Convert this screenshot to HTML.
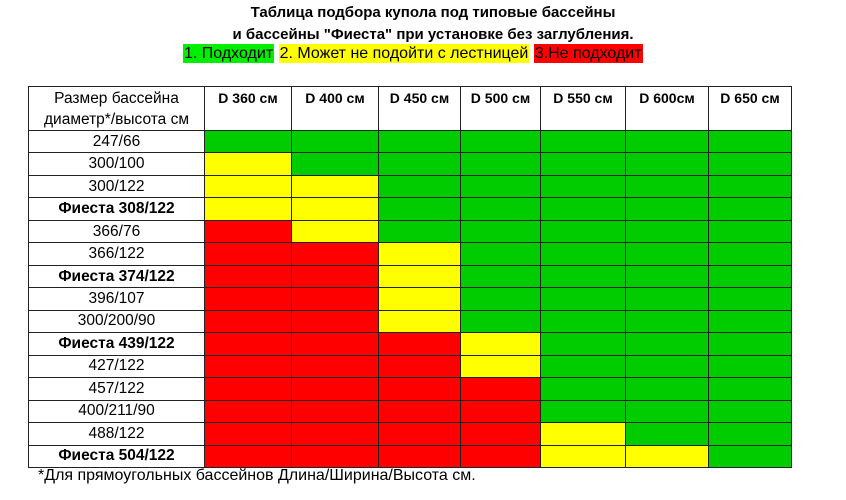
<!DOCTYPE html>
<html><head><meta charset="utf-8"><style>
body{margin:0;width:846px;height:500px;background:#fff;font-family:"Liberation Sans","DejaVu Sans",sans-serif;position:relative;overflow:hidden;color:#000}
.t{position:absolute;left:0;width:866px;text-align:center;font-weight:bold;font-size:15px;white-space:nowrap}
.lg{position:absolute;top:43px;left:183px;font-size:16px;white-space:nowrap;line-height:22px}
.lg span{padding:1px 1px}
table{position:absolute;left:28px;top:86px;border-collapse:collapse;table-layout:fixed}
td{border:1px solid #222;padding:0;height:21.47px;font-size:15.5px;text-align:center;line-height:20px;white-space:nowrap}
tr.h td{height:42px;vertical-align:top;font-weight:bold;font-size:14px;line-height:20px;padding-top:1px;background:#fff}
tr.h td:first-child{font-weight:normal;font-size:15.5px;line-height:21px;vertical-align:middle;padding-top:0}
.G{background:#00cc00}.Y{background:#ffff00}.R{background:#ff0000}
.b{font-weight:bold}
.f{position:absolute;left:38px;top:467px;font-size:16px;white-space:nowrap}
</style></head><body>
<div class="t" style="top:4px">Таблица подбора купола под типовые бассейны</div>
<div class="t" style="top:26px">и бассейны "Фиеста" при установке без заглубления.</div>
<div class="lg"><span style="background:#00ee00">1. Подходит</span> <span style="background:#ffff00">2. Может не подойти с лестницей</span> <span style="background:#ff0000">3.Не подходит</span></div>
<table>
<colgroup><col style="width:176px"><col style="width:87px"><col style="width:87px"><col style="width:82px"><col style="width:80px"><col style="width:85px"><col style="width:83px"><col style="width:83px"></colgroup>
<tr class="h"><td>Размер бассейна<br>диаметр*/высота см</td><td>D 360 см</td><td>D 400 см</td><td>D 450 см</td><td>D 500 см</td><td>D 550 см</td><td>D 600см</td><td>D 650 см</td></tr>
<tr><td>247/66</td><td class="G"></td><td class="G"></td><td class="G"></td><td class="G"></td><td class="G"></td><td class="G"></td><td class="G"></td></tr>
<tr><td>300/100</td><td class="Y"></td><td class="G"></td><td class="G"></td><td class="G"></td><td class="G"></td><td class="G"></td><td class="G"></td></tr>
<tr><td>300/122</td><td class="Y"></td><td class="Y"></td><td class="G"></td><td class="G"></td><td class="G"></td><td class="G"></td><td class="G"></td></tr>
<tr><td class="b">Фиеста 308/122</td><td class="Y"></td><td class="Y"></td><td class="G"></td><td class="G"></td><td class="G"></td><td class="G"></td><td class="G"></td></tr>
<tr><td>366/76</td><td class="R"></td><td class="Y"></td><td class="G"></td><td class="G"></td><td class="G"></td><td class="G"></td><td class="G"></td></tr>
<tr><td>366/122</td><td class="R"></td><td class="R"></td><td class="Y"></td><td class="G"></td><td class="G"></td><td class="G"></td><td class="G"></td></tr>
<tr><td class="b">Фиеста 374/122</td><td class="R"></td><td class="R"></td><td class="Y"></td><td class="G"></td><td class="G"></td><td class="G"></td><td class="G"></td></tr>
<tr><td>396/107</td><td class="R"></td><td class="R"></td><td class="Y"></td><td class="G"></td><td class="G"></td><td class="G"></td><td class="G"></td></tr>
<tr><td>300/200/90</td><td class="R"></td><td class="R"></td><td class="Y"></td><td class="G"></td><td class="G"></td><td class="G"></td><td class="G"></td></tr>
<tr><td class="b">Фиеста 439/122</td><td class="R"></td><td class="R"></td><td class="R"></td><td class="Y"></td><td class="G"></td><td class="G"></td><td class="G"></td></tr>
<tr><td>427/122</td><td class="R"></td><td class="R"></td><td class="R"></td><td class="Y"></td><td class="G"></td><td class="G"></td><td class="G"></td></tr>
<tr><td>457/122</td><td class="R"></td><td class="R"></td><td class="R"></td><td class="R"></td><td class="G"></td><td class="G"></td><td class="G"></td></tr>
<tr><td>400/211/90</td><td class="R"></td><td class="R"></td><td class="R"></td><td class="R"></td><td class="G"></td><td class="G"></td><td class="G"></td></tr>
<tr><td>488/122</td><td class="R"></td><td class="R"></td><td class="R"></td><td class="R"></td><td class="Y"></td><td class="G"></td><td class="G"></td></tr>
<tr><td class="b">Фиеста 504/122</td><td class="R"></td><td class="R"></td><td class="R"></td><td class="R"></td><td class="Y"></td><td class="Y"></td><td class="G"></td></tr>
</table>
<div class="f">*Для прямоугольных бассейнов Длина/Ширина/Высота см.</div>
</body></html>
